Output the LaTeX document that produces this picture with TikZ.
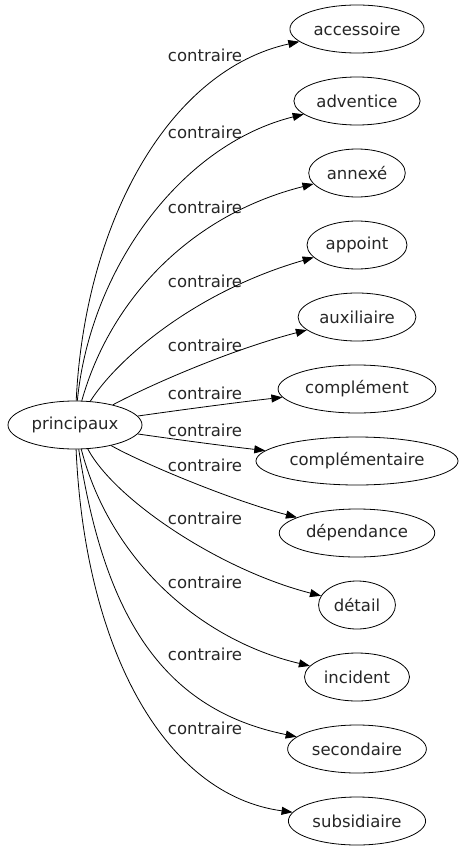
\documentclass[tikz,border=0pt]{standalone}
\usepackage{fontspec}
\setmainfont{DejaVu Sans}
\usetikzlibrary{shapes, arrows.meta, positioning}

\begin{document}
\begin{tikzpicture}[
  x=1pt, y=-1pt,
  wnode/.style={draw, ellipse, inner xsep=4pt, minimum height=48pt, text=black!85, font=\fontsize{16.5}{18}\selectfont, line width=0.8pt},
  rel/.style={-{Triangle[length=11pt, width=8pt]}, line width=0.8pt},
  lbl/.style={inner sep=0pt, text=black!85, font=\fontsize{16.5}{18}\selectfont}
]
  \useasboundingbox (0,0) rectangle (462,851);

  \node[wnode] (principaux) at (75,425) {principaux};

  \node[wnode] (accessoire) at (357,29) {accessoire};
  \node[wnode] (adventice) at (357,101) {adventice};
  \node[wnode] (annexe) at (357,173) {annexé};
  \node[wnode] (appoint) at (357,245) {appoint};
  \node[wnode] (auxiliaire) at (357,317) {auxiliaire};
  \node[wnode] (complement) at (357,389) {complément};
  \node[wnode] (complementaire) at (357,461) {complémentaire};
  \node[wnode] (dependance) at (357,533) {dépendance};
  \node[wnode] (detail) at (357,605) {détail};
  \node[wnode] (incident) at (357,677) {incident};
  \node[wnode] (secondaire) at (357,749) {secondaire};
  \node[wnode] (subsidiaire) at (357,821) {subsidiaire};

  \node[lbl] (c1) at (205,55) {contraire};
  \node[lbl] (c2) at (205,132) {contraire};
  \node[lbl] (c3) at (205,207) {contraire};
  \node[lbl] (c4) at (205,281) {contraire};
  \node[lbl] (c5) at (205,345) {contraire};
  \node[lbl] (c6) at (205,393) {contraire};
  \node[lbl] (c7) at (205,430) {contraire};
  \node[lbl] (c8) at (205,465) {contraire};
  \node[lbl] (c9) at (205,518) {contraire};
  \node[lbl] (c10) at (205,582) {contraire};
  \node[lbl] (c11) at (205,654) {contraire};
  \node[lbl] (c12) at (205,728) {contraire};

  \draw[rel] (principaux) .. controls (85,220) and (170,70) .. (accessoire);
  \draw[rel] (principaux) .. controls (90,270) and (180,145) .. (adventice);
  \draw[rel] (principaux) .. controls (110,300) and (190,215) .. (annexe);
  \draw[rel] (principaux) .. controls (120,355) and (200,290) .. (appoint);
  \draw[rel] (principaux) .. controls (150,385) and (230,350) .. (auxiliaire);
  \draw[rel] (principaux) .. controls (180,410) and (240,402) .. (complement);
  \draw[rel] (principaux) .. controls (180,440) and (225,446) .. (complementaire);
  \draw[rel] (principaux) .. controls (140,462) and (230,500) .. (dependance);
  \draw[rel] (principaux) .. controls (115,500) and (220,570) .. (detail);
  \draw[rel] (principaux) .. controls (110,560) and (200,640) .. (incident);
  \draw[rel] (principaux) .. controls (105,620) and (165,710) .. (secondaire);
  \draw[rel] (principaux) .. controls (85,650) and (165,795) .. (subsidiaire);
\end{tikzpicture}
\end{document}
